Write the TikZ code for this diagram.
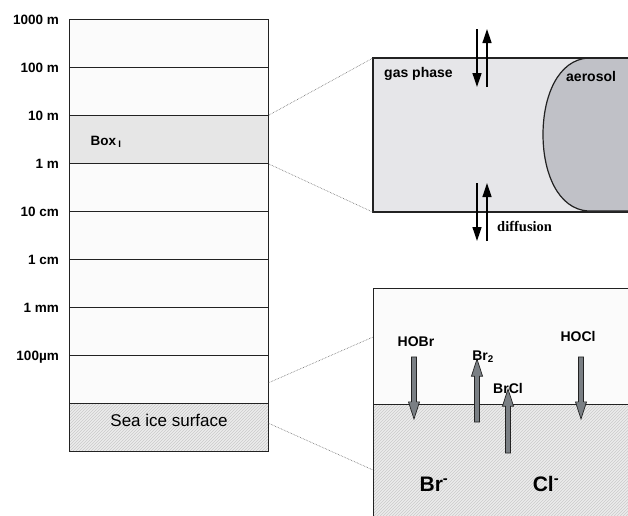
\documentclass[tikz,border=0pt]{standalone}
\usepackage{fontspec}
\setmainfont{Liberation Sans}
\newfontfamily\serifface{Liberation Serif}
\usetikzlibrary{patterns,shapes.arrows,arrows.meta}
\definecolor{edge}{HTML}{222222}
\definecolor{cellfill}{HTML}{FBFBFB}
\definecolor{boxfill}{HTML}{E6E6E6}
\definecolor{gasfill}{HTML}{E6E6E9}
\definecolor{aerofill}{HTML}{C0C1C7}
\definecolor{icefill}{HTML}{ECECEC}
\definecolor{hatch}{HTML}{CBCBCB}
\definecolor{arrowfill}{HTML}{7A7F84}
\definecolor{zoomline}{HTML}{666666}
\begin{document}
\begin{tikzpicture}[x=1pt,y=-1pt,
  layer/.style={draw=edge, line width=1.1pt, fill=cellfill, minimum width=199pt, minimum height=48pt, inner sep=0pt, anchor=north west},
  icecell/.style={preaction={fill=icefill}, pattern=north east lines, pattern color=hatch},
  scalelab/.style={anchor=base east, font=\fontsize{13.5}{16}\selectfont\bfseries, inner sep=0pt},
  lab/.style={font=\fontsize{14}{17}\selectfont\bfseries, inner sep=0pt},
  biglab/.style={font=\fontsize{21}{25}\selectfont\bfseries, inner sep=0pt},
  zoomln/.style={draw=zoomline, densely dotted, line width=0.6pt},
  diffarrow/.style={draw=black, line width=1.3pt, -{Triangle[length=14pt,width=9pt]}},
  blockarrow/.style={single arrow, draw=edge, fill=arrowfill, line width=0.7pt, inner sep=2.2pt, single arrow head extend=3pt, single arrow tip angle=36, minimum height=#1}
]
\useasboundingbox (0,0) rectangle (628,515);
\clip (0,0) rectangle (628,515);
\fill[white] (0,0) rectangle (628,515);

% ---------- left column ----------
\node[layer] (L1000) at (69,19) {};
\node[layer] (L100) at (69,67) {};
\node[layer, fill=boxfill] (boxI) at (69,115) {};
\node[layer] (L1m) at (69,163) {};
\node[layer] (L10cm) at (69,211) {};
\node[layer] (L1cm) at (69,259) {};
\node[layer] (L1mm) at (69,307) {};
\node[layer] (L100um) at (69,355) {};
\node[layer, icecell] (ice) at (69,403) {};

\node[scalelab] (s1) at (59,24) {1000 m};
\node[scalelab] (s2) at (59,72) {100 m};
\node[scalelab] (s3) at (59,120) {10 m};
\node[scalelab] (s4) at (59,168) {1 m};
\node[scalelab] (s5) at (59,216) {10 cm};
\node[scalelab] (s6) at (59,264) {1 cm};
\node[scalelab] (s7) at (59,312) {1 mm};
\node[scalelab] (s8) at (59,360) {100µm};

\node[anchor=base west, font=\fontsize{13.5}{16}\selectfont\bfseries, inner sep=0pt] (boxlab) at (90.5,145) {Box\,\textsubscript{I}};
\node[font=\fontsize{17}{20}\selectfont, inner sep=0pt] (icelab) at (169,420) {Sea ice surface};

% ---------- gas box ----------
\node[draw=edge, line width=1.2pt, fill=gasfill, minimum width=262pt, minimum height=153pt, inner sep=0pt, anchor=north west] (gas) at (373,58) {};
\begin{scope}
  \clip (gas.north west) rectangle (gas.south east);
  \draw[draw=edge, fill=aerofill, line width=1.2pt] (588,58) .. controls (558,60) and (543,96) .. (543,134.5) .. controls (543,173) and (558,209) .. (588,211) -- (640,211) -- (640,58) -- cycle;
\end{scope}
\draw[draw=edge, line width=1.2pt] (gas.north west) rectangle (gas.south east);

\node[lab, anchor=base west] (gasl) at (384,77) {gas phase};
\node[lab, anchor=base west] (aerol) at (566,81) {aerosol};
\node[anchor=base west, inner sep=0pt, font=\serifface\fontsize{14.5}{17}\selectfont\bfseries] (diffl) at (497,231) {diffusion};

\coordinate (d1a) at (477,29);
\coordinate (d1b) at (477,87);
\coordinate (u1a) at (487,87);
\coordinate (u1b) at (487,29);
\coordinate (d2a) at (477,183);
\coordinate (d2b) at (477,241);
\coordinate (u2a) at (487,241);
\coordinate (u2b) at (487,183);
\draw[diffarrow] (d1a) -- (d1b);
\draw[diffarrow] (u1a) -- (u1b);
\draw[diffarrow] (d2a) -- (d2b);
\draw[diffarrow] (u2a) -- (u2b);

\draw[zoomln] (boxI.north east) -- (gas.north west);
\draw[zoomln] (boxI.south east) -- (gas.south west);

% ---------- surface box ----------
\node[draw=edge, line width=1.2pt, fill=cellfill, minimum width=262pt, minimum height=116pt, inner sep=0pt, anchor=north west] (air) at (373,288) {};
\node[draw=edge, line width=1.2pt, icecell, minimum width=262pt, minimum height=120pt, inner sep=0pt, anchor=north west] (snow) at (373,404) {};

\coordinate (lt) at (268,383);
\coordinate (zt) at (373,337);
\coordinate (lb) at (268,423);
\coordinate (zb) at (373,470);
\draw[zoomln] (lt) -- (zt);
\draw[zoomln] (lb) -- (zb);

\node[blockarrow=62pt, shape border rotate=270] (aHOBr) at (414,384) {};
\node[blockarrow=63pt, shape border rotate=90] (aBr2) at (477,394.5) {};
\node[blockarrow=64pt, shape border rotate=90] (aBrCl) at (508,425) {};
\node[blockarrow=62pt, shape border rotate=270] (aHOCl) at (581,384) {};

\node[lab] (hobr) at (416,342) {HOBr};
\node[lab] (br2) at (483,357) {Br\textsubscript{2}};
\node[lab] (brcl) at (508,388.5) {BrCl};
\node[lab] (hocl) at (578,336) {HOCl};
\node[biglab] (brm) at (434,484) {Br\textsuperscript{-}};
\node[biglab] (clm) at (546,484) {Cl\textsuperscript{-}};
\end{tikzpicture}
\end{document}
